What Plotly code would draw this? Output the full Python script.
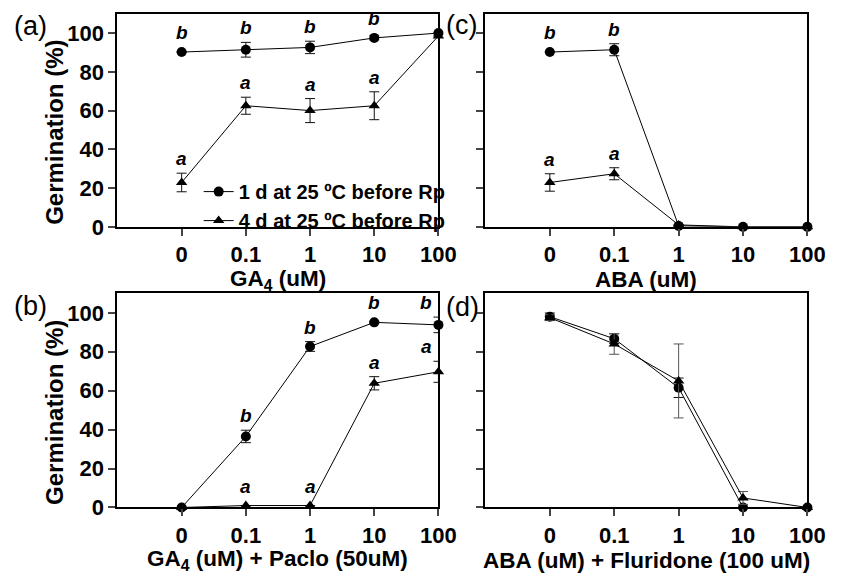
import plotly.graph_objects as go

doses = ["0", "0.1", "1", "10", "100"]
series_names = ["1 d at 25 ºC before Rp", "4 d at 25 ºC before Rp"]

# Panel (a) GA4
a_1d = [90.2, 91.4, 92.6, 97.5, 100.0]
a_1d_err = [0.0, 3.8, 3.2, 1.0, 0.0]
a_4d = [22.9, 62.5, 60.0, 62.5, 98.5]
a_4d_err = [4.8, 4.4, 6.2, 7.2, 0.0]
a_1d_letters = ["b", "b", "b", "b", ""]
a_4d_letters = ["a", "a", "a", "a", ""]

# Panel (c) ABA
c_1d = [90.2, 91.4, 0.5, 0.0, 0.0]
c_1d_err = [0.0, 3.1, 0.0, 0.0, 0.0]
c_4d = [22.9, 27.4, 1.0, 0.0, 0.0]
c_4d_err = [4.5, 3.1, 0.0, 0.0, 0.0]
c_1d_letters = ["b", "b", "", "", ""]
c_4d_letters = ["a", "a", "", "", ""]

# Panel (b) GA4 + Paclo
b_1d = [0.0, 36.5, 82.7, 95.1, 93.8]
b_1d_err = [0.0, 3.2, 2.5, 0.5, 4.0]
b_4d = [0.0, 1.0, 1.0, 63.8, 69.7]
b_4d_err = [0.0, 0.0, 0.0, 3.4, 5.4]
b_1d_letters = ["", "b", "b", "b", "b"]
b_4d_letters = ["", "a", "a", "a", "a"]

# Panel (d) ABA + Fluridone
d_1d = [98.0, 86.7, 61.5, 0.0, 0.0]
d_1d_err = [1.9, 2.5, 5.0, 0.0, 0.0]
d_4d = [97.5, 84.0, 65.0, 4.9, 0.0]
d_4d_err = [1.5, 5.3, 19.0, 3.3, 0.0]

x_titles = ["GA<sub>4</sub> (uM)", "ABA (uM)", "GA<sub>4</sub> (uM) + Paclo (50uM)",
            "ABA (uM) + Fluridone (100 uM)"]
panel_labels = ["(a)", "(c)", "(b)", "(d)"]
y_title = "Germination (%)"

FONT = "Liberation Sans, Arial, sans-serif"
W, H = 845, 586

panels = [
    (a_1d, a_1d_err, a_4d, a_4d_err, a_1d_letters, a_4d_letters),
    (c_1d, c_1d_err, c_4d, c_4d_err, c_1d_letters, c_4d_letters),
    (b_1d, b_1d_err, b_4d, b_4d_err, b_1d_letters, b_4d_letters),
    (d_1d, d_1d_err, d_4d, d_4d_err, None, None),
]

# pixel boxes (left, right, top, bottom)
boxes = [(120, 448, 14, 232), (496, 825, 14, 232), (120, 448, 300, 519), (496, 825, 300, 519)]
label_pos = [(12, 9), (454, 8), (12, 296), (454, 297)]

fig = go.Figure()
xpos = list(range(len(doses)))
annotations = []

for i, (s1, e1, s2, e2, l1, l2) in enumerate(panels):
    xa = "x" if i == 0 else f"x{i+1}"
    ya = "y" if i == 0 else f"y{i+1}"
    for j, (vals, errs, sym) in enumerate([(s1, e1, "circle"), (s2, e2, "triangle-up")]):
        big = [e > 10 for e in errs]
        fig.add_trace(go.Scatter(
            x=xpos, y=vals, xaxis=xa, yaxis=ya,
            mode="lines+markers", name=series_names[j],
            showlegend=(i == 0),
            line=dict(color="black", width=1),
            marker=dict(symbol=sym, size=10, color="black"),
            error_y=dict(type="data", array=errs, visible=True,
                         color=("#555" if any(big) else "#111"),
                         thickness=1, width=5),
            cliponaxis=False,
        ))
    if l1 is not None:
        for vals, errs, letters in [(s1, e1, l1), (s2, e2, l2)]:
            for k, t in enumerate(letters):
                if not t:
                    continue
                annotations.append(dict(
                    x=k, y=vals[k] + max(errs[k], 2.5), xref=xa, yref=ya,
                    text=f"<b><i>{t}</i></b>", showarrow=False,
                    yanchor="bottom", yshift=2, xshift=(-12 if k == len(letters) - 1 else 0),
                    font=dict(family=FONT, size=19, color="black")))

layout = dict(
    width=W, height=H, margin=dict(l=0, r=0, t=0, b=0),
    paper_bgcolor="white", plot_bgcolor="white",
    font=dict(family=FONT, color="black"),
    showlegend=True,
    legend=dict(x=203 / W, y=1 - 176 / H, xanchor="left", yanchor="top",
                bgcolor="rgba(0,0,0,0)",
                font=dict(family=FONT, size=20, color="black", weight="bold"),
                tracegroupgap=0, itemwidth=30),
)

for i, (l, r, t, b) in enumerate(boxes):
    suffix = "" if i == 0 else str(i + 1)
    layout["xaxis" + suffix] = dict(
        domain=[l / W, r / W], range=[-1, 4], anchor="y" + suffix,
        tickvals=xpos, ticktext=doses, ticks="outside", ticklen=7, tickwidth=2,
        showline=True, linewidth=2, linecolor="black", mirror=True,
        showgrid=False, zeroline=False,
        tickfont=dict(family=FONT, size=22, color="black", weight="bold"))
    layout["yaxis" + suffix] = dict(
        domain=[1 - b / H, 1 - t / H], range=[0, 110], anchor="x" + suffix,
        tickvals=[0, 20, 40, 60, 80, 100], ticks="outside", ticklen=7, tickwidth=2,
        showline=True, linewidth=2, linecolor="black", mirror=True,
        showgrid=False, zeroline=False, showticklabels=(i in (0, 2)),
        tickfont=dict(family=FONT, size=22, color="black", weight="bold"))
    # x title
    annotations.append(dict(x=(l + r) / 2 / W, y=1 - (b + 54) / H, xref="paper", yref="paper",
                            text=f"<b>{x_titles[i]}</b>", showarrow=False,
                            xanchor="center", yanchor="middle",
                            font=dict(family=FONT, size=22.5, color="black")))
    # panel label
    px, py = label_pos[i]
    annotations.append(dict(x=px / W, y=1 - py / H,
                            xref="paper", yref="paper", text=panel_labels[i], showarrow=False,
                            xanchor="left", yanchor="top",
                            font=dict(family=FONT, size=27, color="black")))
    if i in (0, 2):
        annotations.append(dict(x=55 / W, y=1 - ((t + b) / 2 + 12) / H, xref="paper", yref="paper",
                                text=f"<b>{y_title}</b>", showarrow=False, textangle=-90,
                                xanchor="center", yanchor="middle",
                                font=dict(family=FONT, size=24, color="black")))

layout["annotations"] = annotations
fig.update_layout(**layout)
fig.write_html("out.html")
